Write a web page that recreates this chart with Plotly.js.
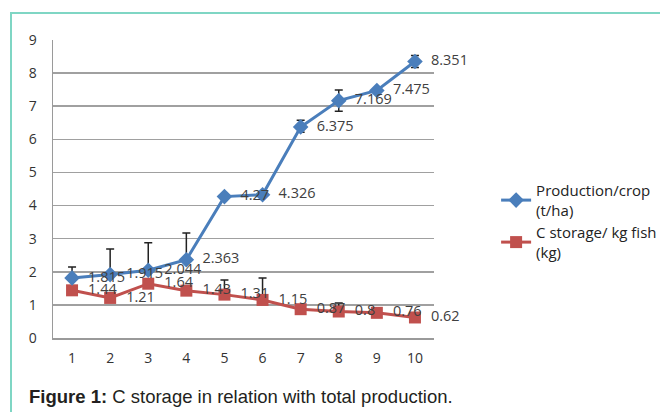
<!DOCTYPE html>
<html>
<head>
<meta charset="utf-8">
<script src="https://cdn.plot.ly/plotly-3.0.1.min.js"></script>
<style>
html,body{margin:0;padding:0;background:#fff;}
#wrap{position:relative;width:660px;height:412px;overflow:hidden;}
#frame{position:absolute;left:10px;top:12px;width:660px;height:420px;border-left:2px solid #7fd6c4;border-top:2px solid #7fd6c4;pointer-events:none;}
#chart{position:absolute;left:0;top:0;width:660px;height:412px;}
</style>
</head>
<body>
<div id="wrap">
<div id="chart"></div>
<div id="frame"></div>
</div>
<script>
// ---- data ----
const categories = ['1','2','3','4','5','6','7','8','9','10'];
const production = [1.815, 1.915, 2.044, 2.363, 4.27, 4.326, 6.375, 7.169, 7.475, 8.351];
const productionLabels = ['1.815','1.915','2.044','2.363','4.27','4.326','6.375','7.169','7.475','8.351'];
const productionErrPlus = [0.33, 0.77, 0.83, 0.81, 0, 0, 0.2, 0.32, 0, 0.18];
const productionErrMinus = [0, 0, 0, 0, 0, 0, 0.16, 0.32, 0, 0.18];
const storage = [1.44, 1.21, 1.64, 1.43, 1.31, 1.15, 0.87, 0.8, 0.76, 0.62];
const storageLabels = ['1.44','1.21','1.64','1.43','1.31','1.15','0.87','0.8','0.76','0.62'];
const storageErrPlus = [0, 0, 0, 0, 0.44, 0.66, 0, 0.26, 0, 0];
const storageErrMinus = [0, 0, 0, 0, 0, 0, 0, 0, 0, 0];
const yTicks = [0,1,2,3,4,5,6,7,8,9];

const pad = '\u00a0\u00a0';
const labelFont = {family: '"Open Sans", sans-serif', size: 14.5, color: '#404040'};

const traces = [
  {
    x: categories, y: storage, name: 'C storage/ kg fish<br>(kg)',
    type: 'scatter', mode: 'lines+markers+text', cliponaxis: false,
    text: storageLabels.map(s => pad + s), textposition: 'middle right', textfont: labelFont,
    line: {color: '#c0504d', width: 3},
    marker: {symbol: 'square', size: 12, color: '#c0504d'},
    error_y: {type: 'data', array: storageErrPlus, arrayminus: storageErrMinus, symmetric: false,
              color: '#222', thickness: 1.5, width: 4},
    legendrank: 2
  },
  {
    x: categories, y: production, name: 'Production/crop<br>(t/ha)',
    type: 'scatter', mode: 'lines+markers+text', cliponaxis: false,
    text: productionLabels.map(s => pad + s), textposition: 'middle right', textfont: labelFont,
    line: {color: '#4a7ebb', width: 3},
    marker: {symbol: 'diamond', size: 12, color: '#4a7ebb'},
    error_y: {type: 'data', array: productionErrPlus, arrayminus: productionErrMinus, symmetric: false,
              color: '#222', thickness: 1.5, width: 4},
    legendrank: 1
  }
];

const layout = {
  width: 660, height: 412,
  margin: {l: 53, r: 226, t: 40, b: 74, autoexpand: false},
  paper_bgcolor: '#fff', plot_bgcolor: '#fff',
  showlegend: true,
  legend: {
    x: 1.163, y: 0.55, xanchor: 'left', yanchor: 'top',
    font: {family: '"Open Sans", sans-serif', size: 15, color: '#222'},
    bgcolor: 'rgba(0,0,0,0)', tracegroupgap: 14, itemwidth: 30
  },
  xaxis: {
    type: 'category', categoryorder: 'array', categoryarray: categories,
    range: [-0.5, 9.5], showgrid: false, zeroline: false,
    showline: true, linecolor: '#9a9a9a', linewidth: 1.5,
    ticks: '', ticklabelstandoff: 7,
    tickfont: {family: '"Open Sans", sans-serif', size: 14, color: '#333'}
  },
  yaxis: {
    range: [0, 9], tickvals: yTicks, ticktext: yTicks.map(String),
    showgrid: true, gridcolor: '#a0a0a0', gridwidth: 1.5,
    zeroline: false, showline: true, linecolor: '#9a9a9a', linewidth: 1.5,
    ticks: '', ticklabelstandoff: 12,
    tickfont: {family: '"Open Sans", sans-serif', size: 14, color: '#333'}
  },
  annotations: [{
    xref: 'paper', yref: 'paper', x: -0.068, y: -0.195, xanchor: 'left', yanchor: 'middle',
    showarrow: false, align: 'left',
    text: '<b>Figure 1:</b> C storage in relation with total production.',
    font: {family: 'Arial, "Liberation Sans", sans-serif', size: 18.5, color: '#231f20'}
  }]
};

Plotly.newPlot('chart', traces, layout, {displayModeBar: false, staticPlot: true});
</script>
</body>
</html>
